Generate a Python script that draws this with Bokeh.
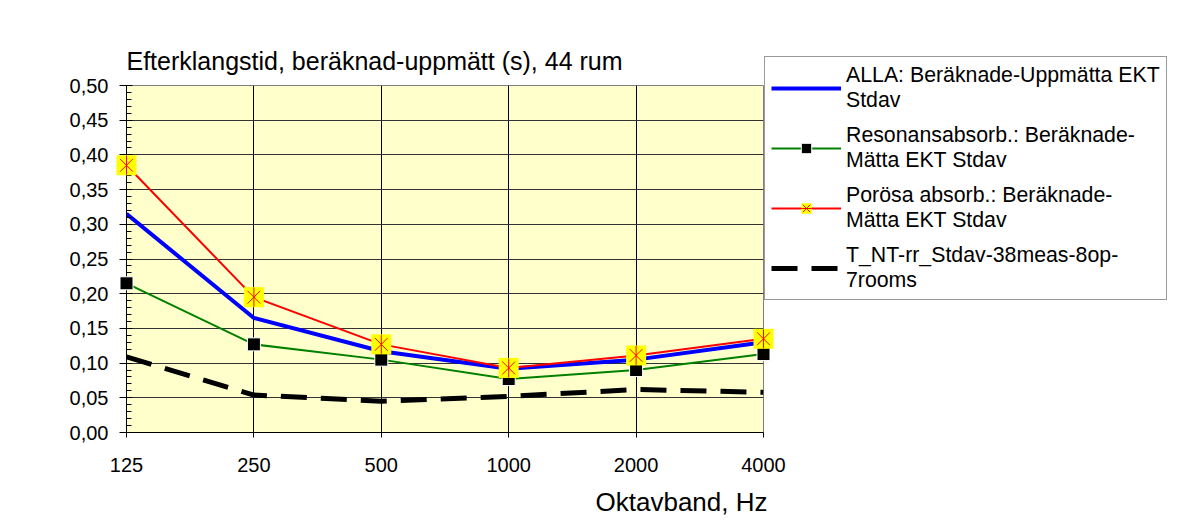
from math import pi
from bokeh.plotting import figure
from bokeh.models import (Range1d, FixedTicker, SingleIntervalTicker,
                          CustomJSTickFormatter, Legend, LegendItem, Title)
from bokeh.embed import file_html
from bokeh.resources import INLINE

# ---- data ----
bands = ["125", "250", "500", "1000", "2000", "4000"]
alla = [0.315, 0.165, 0.117, 0.092, 0.105, 0.130]
reson = [0.215, 0.127, 0.105, 0.077, 0.090, 0.113]
porosa = [0.385, 0.195, 0.127, 0.093, 0.111, 0.135]
tnt = [0.109, 0.054, 0.045, 0.052, 0.062, 0.058]

series_labels = [
    "ALLA: Beräknade-Uppmätta EKT\nStdav",
    "Resonansabsorb.: Beräknade-\nMätta EKT Stdav",
    "Porösa absorb.: Beräknade-\nMätta EKT Stdav",
    "T_NT-rr_Stdav-38meas-8op-\n7rooms",
]
title_text = "Efterklangstid, beräknad-uppmätt (s), 44 rum"
x_label = "Oktavband, Hz"

FONT = "Liberation Sans"
x = list(range(len(bands)))

# layout constants (pixels)
FL, FT, FW, FH = 126, 85, 637, 347
Y_MAX = 0.5
X_MAX = len(bands) - 1

p = figure(frame_width=FW, frame_height=FH,
           min_border_left=FL, min_border_top=FT, min_border_bottom=97,
           min_border_right=425,
           x_range=Range1d(0, X_MAX), y_range=Range1d(0, Y_MAX),
           output_backend="svg", toolbar_location=None,
           background_fill_color="#FFFFCC", border_fill_color="white",
           outline_line_color="#808080", outline_line_width=1)

p.title.text = title_text
p.title.text_font = FONT
p.title.text_font_size = "25px"
p.title.text_font_style = "normal"
p.title.text_color = "black"
p.title.align = "left"
p.title.standoff = 22

# lines
l_alla = p.line(x, alla, line_color="#0000FF", line_width=4)
l_res = p.line(x, reson, line_color="#008000", line_width=2)
l_por = p.line(x, porosa, line_color="#FF0000", line_width=2)
l_tnt = p.line(x, tnt, line_color="black", line_width=5, line_dash="26 14")

# markers (overlay level so that the edge markers are not cut by the frame)
m_res = p.scatter(x, reson, marker="square", size=13, fill_color="black",
                  line_color="white", line_width=1, level="overlay")
m_por_bg = p.scatter(x, porosa, marker="square", size=20, fill_color="#FFFF00",
                     line_color=None, level="overlay")
m_por_x = p.scatter(x, porosa, marker="x", size=18, line_color="#FF0000",
                    line_width=1, level="overlay")
m_por_v = p.scatter(x, porosa, marker="dash", angle=pi / 2, size=19,
                    line_color="#FF0000", line_width=1, level="overlay")

# axes
xa = p.xaxis[0]
xa.ticker = FixedTicker(ticks=x)
xa.major_label_overrides = {i: b for i, b in enumerate(bands)}
xa.major_tick_in = 0
xa.major_tick_out = 5
xa.minor_tick_out = 0
xa.major_label_standoff = 20
xa.major_label_text_font = FONT
xa.major_label_text_font_size = "20px"
xa.major_label_text_color = "black"
xa.axis_line_color = "black"
xa.major_tick_line_color = "black"

ya = p.yaxis[0]
ya.ticker = SingleIntervalTicker(interval=0.05, num_minor_ticks=5)
ya.formatter = CustomJSTickFormatter(code="return tick.toFixed(2).replace('.', ',');")
ya.major_tick_in = 6
ya.major_tick_out = 7
ya.minor_tick_in = 5
ya.minor_tick_out = 0
ya.major_label_standoff = 11
ya.major_label_text_font = FONT
ya.major_label_text_font_size = "20px"
ya.major_label_text_color = "black"
ya.axis_line_color = "black"
ya.major_tick_line_color = "black"
ya.minor_tick_line_color = "black"

# x axis title, right-aligned under the axis
xt = Title(text=x_label, align="right", text_font=FONT, text_font_size="26px",
           text_font_style="normal", text_color="black", standoff=20, offset=-4)
p.add_layout(xt, "below")

# grids
p.xgrid.ticker = FixedTicker(ticks=x)
p.xgrid.grid_line_color = "black"
p.xgrid.grid_line_width = 1
p.ygrid.ticker = SingleIntervalTicker(interval=0.05)
p.ygrid.grid_line_color = "#333333"
p.ygrid.grid_line_width = 1

# legend right of the frame
legend = Legend(items=[
    LegendItem(label=series_labels[0], renderers=[l_alla]),
    LegendItem(label=series_labels[1], renderers=[l_res, m_res]),
    LegendItem(label=series_labels[2], renderers=[l_por, m_por_bg, m_por_x, m_por_v]),
    LegendItem(label=series_labels[3], renderers=[l_tnt]),
], location=(1, 132))
legend.label_text_font = FONT
legend.label_text_font_size = "21.3px"
legend.label_text_color = "black"
legend.label_standoff = 5
legend.glyph_width = 70
legend.glyph_height = 26
legend.label_height = 20
legend.padding = 6
legend.spacing = 10
legend.margin = 0
legend.border_line_color = "#333333"
legend.border_line_width = 1
legend.background_fill_color = "white"
legend.background_fill_alpha = 1
p.add_layout(legend, "right")

open("out.html", "w").write(file_html(p, INLINE))
